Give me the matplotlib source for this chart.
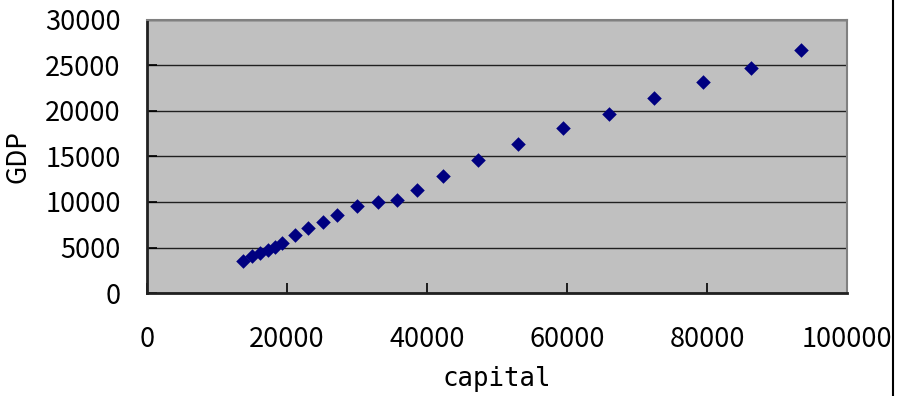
import matplotlib
matplotlib.use("Agg")
import matplotlib.pyplot as plt
from matplotlib.lines import Line2D

plt.rcParams['font.family'] = ['Noto Sans CJK JP', 'DejaVu Sans']

capital = [13714, 15000, 16143, 17286, 18286, 19286, 21143, 23000, 25143, 27143,
           30000, 33000, 35714, 38571, 42286, 47286, 53000, 59429, 66000, 72429,
           79429, 86286, 93429]
gdp = [3516, 4066, 4396, 4725, 5055, 5495, 6374, 7143, 7802, 8571,
       9560, 10000, 10220, 11319, 12857, 14615, 16374, 18132, 19670, 21429,
       23187, 24725, 26703]

x_ticks = [0, 20000, 40000, 60000, 80000, 100000]
y_ticks = [0, 5000, 10000, 15000, 20000, 25000, 30000]

fig = plt.figure(figsize=(8.97, 3.96), dpi=100)
ax = fig.add_axes([0.1639, 0.2601, 0.7804, 0.6894])
ax.set_facecolor('#C0C0C0')

ax.scatter(capital, gdp, marker='D', s=55, color='#000080', zorder=3, linewidths=0)

ax.set_xlim(0, 100000)
ax.set_ylim(0, 30000)
ax.set_xticks(x_ticks)
ax.set_yticks(y_ticks)
ax.yaxis.grid(True, color='#202020', linewidth=1.0)
ax.set_axisbelow(True)

ax.tick_params(direction='in', length=7, width=1.2, colors='black', labelsize=19.5)
ax.tick_params(axis='x', pad=24)
ax.tick_params(axis='y', pad=19)

for side in ['left', 'bottom']:
    ax.spines[side].set_linewidth(2)
    ax.spines[side].set_color('#202020')
for side in ['top', 'right']:
    ax.spines[side].set_linewidth(1.5)
    ax.spines[side].set_color('#808080')

ax.set_xlabel('capital', fontsize=18.5, family='DejaVu Sans Mono', labelpad=9)
ax.set_ylabel('GDP', fontsize=19, labelpad=10)

# figure border line at the right edge
fig.add_artist(Line2D([0.9955, 0.9955], [0, 1], transform=fig.transFigure,
                      color='black', linewidth=1.5))

fig.savefig('out.png', dpi=100)
